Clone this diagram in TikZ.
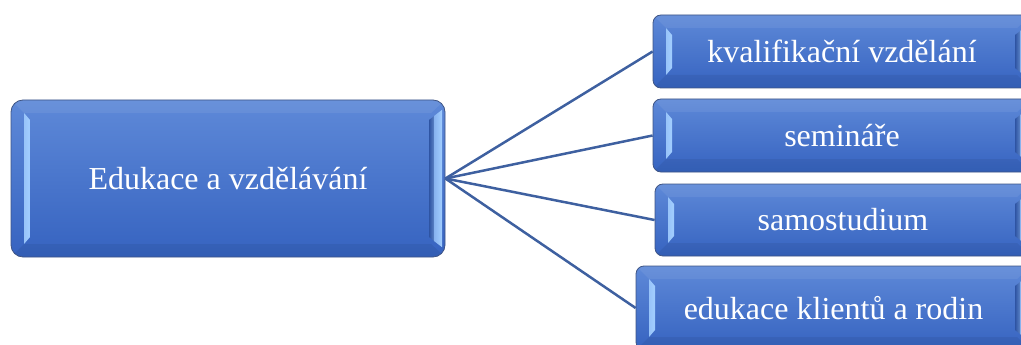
\documentclass[tikz,border=0pt]{standalone}
\usepackage{fontspec}
\setmainfont{Liberation Serif}
\usetikzlibrary{calc}
\definecolor{boxtop}{RGB}{94,137,216}
\definecolor{boxbot}{RGB}{54,99,192}
\definecolor{boxedge}{RGB}{62,84,132}
\definecolor{hilite}{RGB}{162,206,255}
\definecolor{linecol}{RGB}{62,96,160}
\tikzset{
  bevelbox/.style={rectangle, rounded corners=#1, draw=boxedge, line width=0.8pt,
    top color=boxtop, bottom color=boxbot, text=white, inner sep=0pt,
    font=\fontsize{32}{38}\selectfont,
    path picture={
      \coordinate (nw) at (path picture bounding box.north west);
      \coordinate (se) at (path picture bounding box.south east);
      \coordinate (sw) at (nw|-se);
      \coordinate (ne) at (se|-nw);
      % top band (slightly lighter)
      \fill[sharp corners, white, opacity=0.07] (nw) -- (ne) -- ($(ne)+(-14pt,-13pt)$) -- ($(nw)+(13pt,-13pt)$) -- cycle;
      % bottom band (slightly darker)
      \fill[sharp corners, black, opacity=0.06] (sw) -- (se) -- ($(se)+(-14pt,13pt)$) -- ($(sw)+(13pt,13pt)$) -- cycle;
      % left highlight strip
      \shade[sharp corners, left color=hilite!85!boxtop, right color=hilite]
        ($(nw)+(13pt,-13pt)$) -- ($(nw)+(19pt,-20pt)$) -- ($(sw)+(19pt,20pt)$) -- ($(sw)+(13pt,13pt)$) -- cycle;
      % right highlight strip
      \shade[sharp corners, left color=boxbot!85!black, right color=hilite]
        ($(ne)+(-16pt,-20pt)$) -- ($(ne)+(-3pt,-10pt)$) -- ($(se)+(-3pt,10pt)$) -- ($(se)+(-16pt,20pt)$) -- cycle;
      \shade[sharp corners, left color=hilite!60!boxtop, right color=hilite]
        ($(ne)+(-11pt,-16pt)$) -- ($(ne)+(-3pt,-10pt)$) -- ($(se)+(-3pt,10pt)$) -- ($(se)+(-11pt,16pt)$) -- cycle;
    }},
  conn/.style={draw=linecol, line width=2.5pt}
}
\begin{document}
\begin{tikzpicture}[x=1pt,y=-1pt]
\useasboundingbox (0,0) rectangle (1021,345);
\clip (0,0) rectangle (1021,345);
\node[bevelbox=12pt, minimum width=434pt, minimum height=157pt] (main) at (228,178.5) {Edukace a vzdělávání};
\node[bevelbox=8pt, minimum width=378pt, minimum height=73pt] (b1) at (842,51.5) {kvalifikační vzdělání};
\node[bevelbox=8pt, minimum width=378pt, minimum height=73pt] (b2) at (842,135.5) {semináře};
\node[bevelbox=8pt, minimum width=376pt, minimum height=72pt] (b3) at (843,220) {samostudium};
\node[bevelbox=8pt, minimum width=395pt, minimum height=84pt] (b4) at (833.5,308) {edukace klientů a rodin};
\draw[conn] (main.east) -- (b1.west);
\draw[conn] (main.east) -- (b2.west);
\draw[conn] (main.east) -- (b3.west);
\draw[conn] (main.east) -- (b4.west);
\end{tikzpicture}
\end{document}
